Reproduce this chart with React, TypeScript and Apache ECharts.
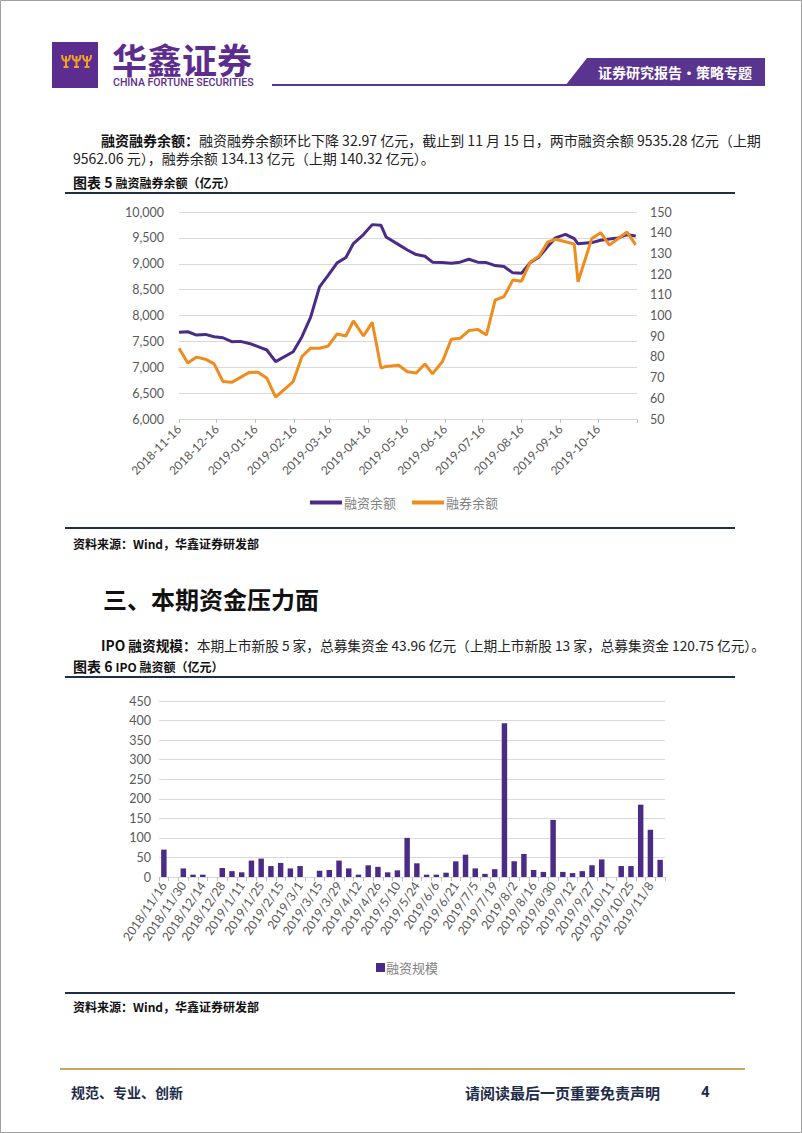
import React, { useEffect, useRef } from "react";
import * as echarts from "echarts";

// ---------- DATA ----------
const dates = [
  "2018-11-16", "2018-11-23", "2018-11-30", "2018-12-07", "2018-12-14", "2018-12-21", "2018-12-28",
  "2019-01-04", "2019-01-11", "2019-01-18", "2019-01-25", "2019-02-01", "2019-02-15", "2019-02-22",
  "2019-03-01", "2019-03-08", "2019-03-15", "2019-03-22", "2019-03-29", "2019-04-04", "2019-04-12",
  "2019-04-19", "2019-04-26", "2019-04-30", "2019-05-10", "2019-05-17", "2019-05-24", "2019-05-31",
  "2019-06-06", "2019-06-14", "2019-06-21", "2019-06-28", "2019-07-05", "2019-07-12", "2019-07-19",
  "2019-07-26", "2019-08-02", "2019-08-09", "2019-08-16", "2019-08-23", "2019-08-30", "2019-09-06",
  "2019-09-12", "2019-09-20", "2019-09-27", "2019-09-30", "2019-10-11", "2019-10-18", "2019-10-25",
  "2019-11-01", "2019-11-08", "2019-11-15",
];

// 融资余额 (亿元, left axis)
const marginBalance = [
  7674, 7686, 7622, 7635, 7590, 7570, 7494, 7500, 7460, 7397, 7333, 7108, 7300, 7590,
  7975, 8554, 8779, 9017, 9120, 9390, 9563, 9756, 9743, 9518, 9370, 9265, 9177, 9145,
  9030, 9023, 9010, 9030, 9087, 9030, 9023, 8965, 8946, 8824, 8817, 9023, 9132, 9338,
  9500, 9569, 9486, 9385, 9409, 9454, 9479, 9500, 9562.06, 9535.28,
];

// 融券余额 (亿元, right axis)
const shortBalance = [
  84.2, 77.0, 79.9, 78.9, 76.6, 68.1, 67.7, 70.1, 72.5, 72.6, 69.7, 60.6, 68.1, 80.2,
  84.2, 84.2, 85.3, 91.1, 90.1, 97.4, 90.1, 96.7, 74.6, 75.4, 76.0, 72.8, 72.2, 76.6,
  71.8, 77.8, 88.5, 89.0, 92.7, 93.3, 90.6, 107.5, 109.1, 117.1, 116.6, 125.9, 128.7, 135.6,
  136.8, 135.6, 134.5, 116.3, 137.2, 140.0, 134.0, 137.2, 140.32, 134.13,
];

// IPO 融资规模 (亿元)
const ipoAmount = [
  70, 0, 22, 6, 6, 0, 23, 15, 12, 42, 47, 28, 36, 22,
  28, 0, 16, 18, 42, 22, 6, 30, 26, 12, 17, 100, 35, 6,
  6, 11, 40, 57, 22, 8, 20, 393, 40, 59, 18, 13, 146, 13,
  10, 15, 30, 45, 0, 28, 28, 185, 120.75, 43.96,
];

const lineTickDates = [
  "2018-11-16", "2018-12-16", "2019-01-16", "2019-02-16", "2019-03-16", "2019-04-16", "2019-05-16",
  "2019-06-16", "2019-07-16", "2019-08-16", "2019-09-16", "2019-10-16", "2019-11-16",
];
const lineLabelDates = lineTickDates.slice(0, 12);

const seriesNames = ["融资余额", "融券余额"];
const barSeriesName = "融资规模";

// ---------- STYLE ----------
const PURPLE = "#4a2c86";
const ORANGE = "#f08b1d";
const LOGO_PURPLE = "#5c2d8f";
const NAVY = "#1f2d4a";
const GOLD = "#c9a55a";
const AXIS_TEXT = "#595959";
const GRID = "#d9d9d9";
const CJK = "'Noto Sans CJK SC', sans-serif";
const NUM = "Lato, 'Noto Sans', sans-serif";

const toMs = (d: string) => Date.parse(d + "T00:00:00Z");
const fmtDash = (ms: number) => {
  const dt = new Date(ms);
  const m = String(dt.getUTCMonth() + 1).padStart(2, "0");
  const d = String(dt.getUTCDate()).padStart(2, "0");
  return `${dt.getUTCFullYear()}-${m}-${d}`;
};
const fmtSlash = (s: string) => {
  const [y, m, d] = s.split("-");
  return `${y}/${+m}/${+d}`;
};

const logoPath = (() => {
  let d = "";
  [0, 10.5, 21].forEach((ox) => {
    d += `M${ox + 1} 0 Q${ox + 1} 6 ${ox + 5} 6 Q${ox + 9} 6 ${ox + 9} 0 `;
    d += `M${ox + 5} 1 L${ox + 5} 12 M${ox + 2.5} 12 L${ox + 7.5} 12 `;
  });
  return d;
})();

let registered = false;
function ensureShapes() {
  if (registered) return;
  echarts.graphic.registerShape("logoMark", echarts.graphic.extendPath(logoPath, {}) as any);
  registered = true;
}

function txt(x: number, y: number, text: string, opts: any = {}) {
  const { align = "left", size = 14, weight = "normal", color = "#222", family = CJK, rich, scaleX } = opts;
  const el: any = {
    type: "text",
    x,
    y,
    style: {
      text,
      fill: color,
      fontSize: size,
      fontWeight: weight,
      fontFamily: family,
      align,
      verticalAlign: "middle",
      textAlign: align,
      textVerticalAlign: "middle",
      rich,
    },
  };
  if (scaleX) el.scaleX = scaleX;
  return el;
}

export default function App() {
  const ref = useRef<HTMLDivElement>(null);

  useEffect(() => {
    if (!ref.current) return;
    ensureShapes();
    const chart = echarts.init(ref.current, undefined, { renderer: "svg" });

    const graphics: any[] = [
      // page border
      { type: "rect", shape: { x: 0.5, y: 0.5, width: 801, height: 1132 }, style: { fill: "none", stroke: "#a0a0a0", lineWidth: 1 } },
      // logo
      { type: "rect", shape: { x: 52, y: 42, width: 46, height: 46 }, style: { fill: LOGO_PURPLE } },
      { type: "logoMark", x: 61, y: 55, style: { fill: "none", stroke: "#f5a11f", lineWidth: 2 } },
      txt(112, 58, "华鑫证券", { size: 35, color: LOGO_PURPLE, weight: "bold" }),
      txt(113, 82, "CHINA FORTUNE SECURITIES", { size: 11, color: LOGO_PURPLE, family: "Roboto, sans-serif", weight: 500, scaleX: 0.96 }),
      { type: "line", shape: { x1: 272, y1: 85, x2: 570, y2: 85 }, style: { stroke: "#5a3590", lineWidth: 2 } },
      { type: "polygon", shape: { points: [[587, 58], [765, 58], [765, 86], [565, 86]] }, style: { fill: "#5a3590" } },
      txt(675, 72, "证券研究报告·策略专题", { size: 14, color: "#ffffff", weight: "bold", align: "center" }),

      // paragraph 1
      txt(101, 140, "{b|融资融券余额：}融资融券余额环比下降 32.97 亿元，截止到 11 月 15 日，两市融资余额 9535.28 亿元（上期", {
        size: 14, color: "#222", rich: { b: { fontWeight: "bold", fontSize: 14, fontFamily: CJK, fill: "#111" } },
      }),
      txt(73, 158, "9562.06 元），融券余额 134.13 亿元（上期 140.32 亿元）。", { size: 14 }),
      txt(73, 182, "{a|图表 5 }{c|融资融券余额（亿元）}", {
        size: 12, weight: "bold", color: "#111",
        rich: { a: { fontSize: 14, fontWeight: "bold", fontFamily: CJK }, c: { fontSize: 12, fontWeight: "bold", fontFamily: CJK } },
      }),
      { type: "line", shape: { x1: 65, y1: 193, x2: 735, y2: 193 }, style: { stroke: NAVY, lineWidth: 2 } },
      { type: "line", shape: { x1: 65, y1: 528, x2: 735, y2: 528 }, style: { stroke: NAVY, lineWidth: 2 } },
      txt(73, 543, "资料来源：Wind，华鑫证券研发部", { size: 12, weight: "bold", color: "#111" }),

      // section heading
      txt(103, 598, "三、本期资金压力面", { size: 24, weight: "bold", color: "#111" }),
      txt(101, 645, "{b|IPO 融资规模：}本期上市新股 5 家，总募集资金 43.96 亿元（上期上市新股 13 家，总募集资金 120.75 亿元）。", {
        size: 13.7, color: "#222", rich: { b: { fontWeight: "bold", fontSize: 13.7, fontFamily: CJK, fill: "#111" } },
      }),
      txt(73, 666, "{a|图表 6 }{c|IPO 融资额（亿元）}", {
        size: 12, weight: "bold", color: "#111",
        rich: { a: { fontSize: 14, fontWeight: "bold", fontFamily: CJK }, c: { fontSize: 12, fontWeight: "bold", fontFamily: CJK } },
      }),
      { type: "line", shape: { x1: 65, y1: 677, x2: 735, y2: 677 }, style: { stroke: NAVY, lineWidth: 2 } },
      { type: "line", shape: { x1: 65, y1: 993, x2: 735, y2: 993 }, style: { stroke: NAVY, lineWidth: 2 } },
      txt(73, 1006, "资料来源：Wind，华鑫证券研发部", { size: 12, weight: "bold", color: "#111" }),

      // footer
      { type: "line", shape: { x1: 60, y1: 1069, x2: 745, y2: 1069 }, style: { stroke: GOLD, lineWidth: 2 } },
      txt(71, 1092, "规范、专业、创新", { size: 14, color: NAVY, weight: "bold" }),
      txt(465, 1092, "请阅读最后一页重要免责声明", { size: 15, color: NAVY, weight: "bold" }),
      txt(701, 1092, "4", { size: 15, color: NAVY, weight: "bold", family: "Roboto, sans-serif" }),
    ];

    const option: any = {
      animation: false,
      backgroundColor: "#ffffff",
      graphic: graphics,
      legend: [
        {
          data: seriesNames,
          left: 305,
          top: 491,
          icon: "rect",
          itemWidth: 32,
          itemHeight: 4,
          itemGap: 16,
          selectedMode: false,
          textStyle: { fontSize: 13, color: "#7f7f7f", fontFamily: CJK, padding: [0, 0, 0, -3] },
        },
        {
          data: [barSeriesName],
          left: 371,
          top: 956,
          icon: "rect",
          itemWidth: 9,
          itemHeight: 9,
          selectedMode: false,
          textStyle: { fontSize: 13, color: "#7f7f7f", fontFamily: CJK, padding: [0, 0, 0, -4] },
        },
      ],
      grid: [
        { left: 179, top: 212, width: 458, height: 207 },
        { left: 159, top: 701, width: 506, height: 176 },
      ],
      xAxis: [
        {
          type: "value",
          gridIndex: 0,
          min: toMs(lineTickDates[0]),
          max: toMs(lineTickDates[lineTickDates.length - 1]),
          splitLine: { show: false },
          axisLine: { show: true, lineStyle: { color: GRID } },
          axisTick: {
            show: true,
            customValues: lineTickDates.map(toMs),
            length: 4,
            lineStyle: { color: "#bfbfbf" },
          },
          axisLabel: {
            customValues: lineLabelDates.map(toMs),
            rotate: 45,
            margin: 8,
            fontSize: 12,
            color: AXIS_TEXT,
            fontFamily: NUM,
            formatter: (v: number) => fmtDash(v),
            showMinLabel: true,
            showMaxLabel: true,
          },
        },
        {
          type: "category",
          gridIndex: 1,
          data: dates.map(fmtSlash),
          boundaryGap: true,
          axisLine: { show: true, lineStyle: { color: GRID } },
          axisTick: { show: true, interval: 0, alignWithLabel: false, length: 4, lineStyle: { color: "#bfbfbf" } },
          axisLabel: { interval: 1, rotate: 56, margin: 6, fontSize: 12.3, color: AXIS_TEXT, fontFamily: NUM },
        },
      ],
      yAxis: [
        {
          type: "value",
          gridIndex: 0,
          min: 6000,
          max: 10000,
          interval: 500,
          position: "left",
          axisLine: { show: false },
          axisTick: { show: false },
          splitLine: { lineStyle: { color: GRID, width: 1 } },
          axisLabel: {
            margin: 15,
            fontSize: 12.5,
            color: AXIS_TEXT,
            fontFamily: NUM,
            formatter: (v: number) => v.toLocaleString("en-US"),
          },
        },
        {
          type: "value",
          gridIndex: 0,
          min: 50,
          max: 150,
          interval: 10,
          position: "right",
          axisLine: { show: false },
          axisTick: { show: false },
          splitLine: { show: false },
          axisLabel: { margin: 13, fontSize: 12.5, color: AXIS_TEXT, fontFamily: NUM },
        },
        {
          type: "value",
          gridIndex: 1,
          min: 0,
          max: 450,
          interval: 50,
          axisLine: { show: false },
          axisTick: { show: false },
          splitLine: { lineStyle: { color: GRID, width: 1 } },
          axisLabel: { margin: 8, fontSize: 12.5, color: AXIS_TEXT, fontFamily: NUM },
        },
      ],
      series: [
        {
          name: seriesNames[0],
          type: "line",
          xAxisIndex: 0,
          yAxisIndex: 0,
          data: dates.map((d, i) => [toMs(d), marginBalance[i]]),
          showSymbol: false,
          symbol: "none",
          color: PURPLE,
          lineStyle: { width: 3, color: PURPLE },
        },
        {
          name: seriesNames[1],
          type: "line",
          xAxisIndex: 0,
          yAxisIndex: 1,
          data: dates.map((d, i) => [toMs(d), shortBalance[i]]),
          showSymbol: false,
          symbol: "none",
          color: ORANGE,
          lineStyle: { width: 3, color: ORANGE },
        },
        {
          name: barSeriesName,
          type: "bar",
          xAxisIndex: 1,
          yAxisIndex: 2,
          data: ipoAmount,
          color: PURPLE,
          barCategoryGap: "44%",
        },
      ],
    };

    chart.setOption(option);
    return () => chart.dispose();
  }, []);

  return (
    <div
      ref={ref}
      style={{ position: "absolute", left: 0, top: 0, width: 802, height: 1133, background: "#fff" }}
    />
  );
}
